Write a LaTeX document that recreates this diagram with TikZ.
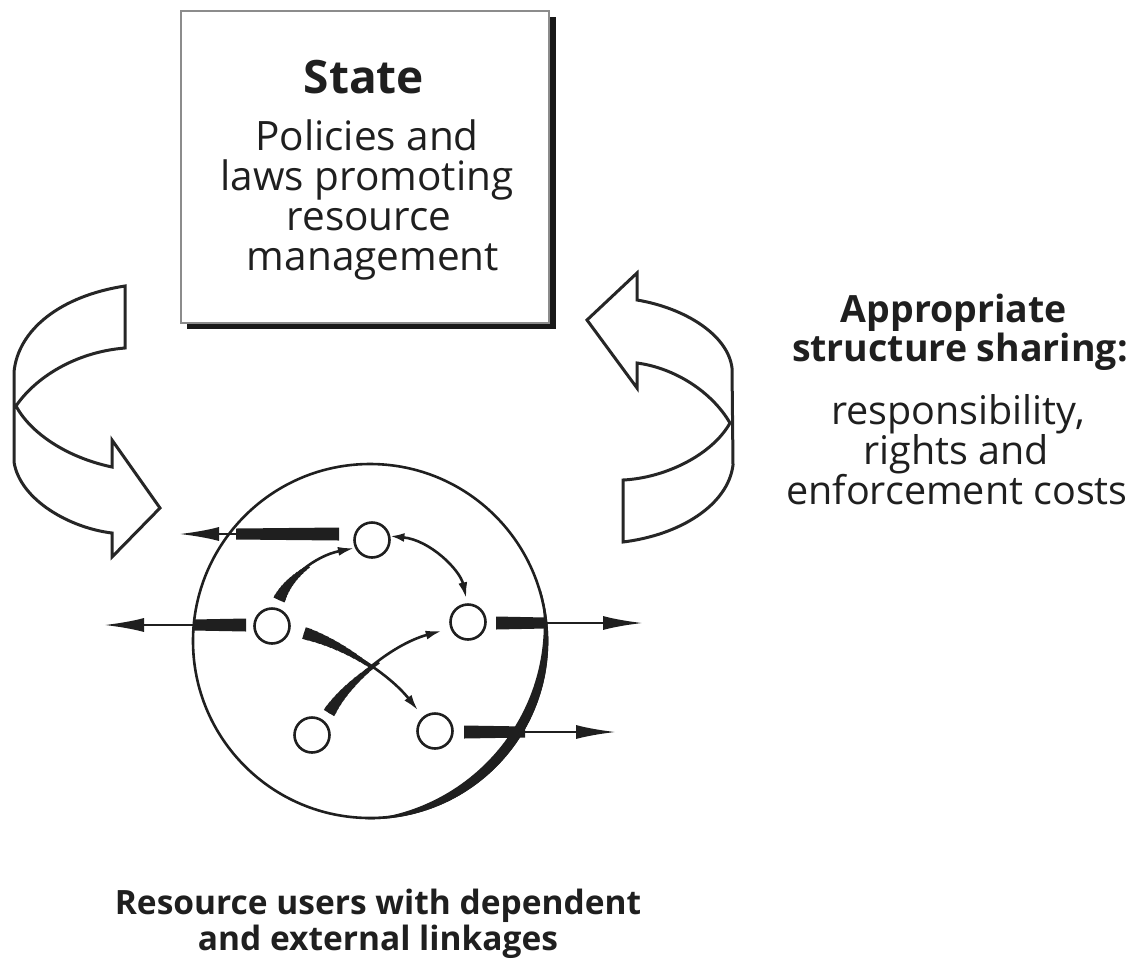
\documentclass[tikz,border=0pt]{standalone}
\usepackage{fontspec}
\setmainfont{Open Sans}
\usetikzlibrary{arrows.meta,calc}
\newcommand\tapercurve[5]{%
  \foreach \i in {0,...,11}{%
    \pgfmathsetmacro\tcpa{\i*0.045}%
    \pgfmathsetmacro\tcpb{(\i+1)*0.045+0.006}%
    \pgfmathsetmacro\tclw{12-\i*0.8}%
    \path (#1) .. controls (#2) and (#3) .. (#4) coordinate[pos=\tcpa] (qa) coordinate[pos=\tcpb] (qb);%
    \draw[line width=\tclw pt, ink] (qa) -- (qb);%
  }%
  \draw[line width=2.6pt, ink, smalltip, shorten >=#5] (#1) .. controls (#2) and (#3) .. (#4);%
}
\begin{document}
\begin{tikzpicture}[x=1pt,y=-1pt,
  ink/.style={draw=black!88},
  usr/.style={circle, draw=black!88, line width=2.6pt, minimum size=35pt, inner sep=0pt, fill=white},
  hollow/.style={draw=black!85, line width=3pt, line join=miter, fill=white},
  bigtip/.style={-{Latex[length=40pt,width=14pt]}},
  smalltip/.style={-{Latex[length=16pt,width=9pt]}},
  txt/.style={anchor=base, inner sep=0pt, text=black!88},
  boxtxt/.style={txt, font=\fontsize{40.5}{40}\selectfont},
  headtxt/.style={txt, font=\bfseries\fontsize{37.5}{40}\selectfont},
  bodytxt/.style={txt, font=\fontsize{39.5}{40}\selectfont},
  foottxt/.style={txt, font=\bfseries\fontsize{33.5}{40}\selectfont},
]
\useasboundingbox (0,0) rectangle (1134,962);

% State box with shadow
\coordinate (shA) at (187,17);
\coordinate (shB) at (556,329);
\fill[black!90] (shA) rectangle (shB);
\node[draw=black!45, line width=2pt, fill=white, minimum width=368pt, minimum height=312pt,
      anchor=north west, inner sep=0pt] (state) at (180,10) {};
\node[txt, font=\bfseries\fontsize{46}{48}\selectfont] (stt) at (364,93) {State};
\node[boxtxt] (b1) at (367,150) {Policies and};
\node[boxtxt] (b2) at (367,190) {laws promoting};
\node[boxtxt] (b3) at (369,230) {resource};
\node[boxtxt] (b4) at (373,270) {management};

% right text
\node[headtxt] (r1) at (954,322) {Appropriate};
\node[headtxt] (r2) at (960,361) {structure sharing:};
\node[bodytxt] (r3) at (958,424) {responsibility,};
\node[bodytxt] (r4) at (956,464) {rights and};
\node[bodytxt] (r5) at (957,504) {enforcement costs};

% bottom text
\node[foottxt] (f1) at (378,914) {Resource users with dependent};
\node[foottxt] (f2) at (378,950) {and external linkages};

% hollow curved arrows
\draw[hollow] (125,286) .. controls (60,296) and (18,330) .. (14,372) -- (14,462)
  .. controls (20,500) and (70,528) .. (112,533) -- (112,557) -- (160,508) -- (112,440) -- (112,467)
  .. controls (65,457) and (30,432) .. (16,406) .. controls (35,378) and (75,352) .. (125,348) -- cycle;
\draw[hollow] (637,300) .. controls (685,308) and (728,335) .. (732,368) -- (733,465)
  .. controls (728,505) and (680,535) .. (623,542) -- (623,480)
  .. controls (665,478) and (712,455) .. (730,423) .. controls (712,392) and (675,368) .. (637,363)
  -- (637,388) -- (587,320) -- (637,273) -- cycle;

% group circle with heavy lower-right edge
\node[circle, draw=black!88, line width=2.6pt, minimum size=354pt, inner sep=0pt] (grp) at (370,641) {};
\begin{scope}
  \clip (370,641) circle[radius=178.3pt];
  \fill[black!88, even odd rule] (370,641) circle[radius=200pt] (347.6,624.1) circle[radius=196.2pt];
\end{scope}

% resource users
\node[usr] (n1) at (372,540) {};
\node[usr] (n2) at (272,626) {};
\node[usr] (n3) at (468,622) {};
\node[usr] (n4) at (312,735) {};
\node[usr] (n5) at (435,731) {};

% external linkages
\coordinate (a1s) at (339,534); \coordinate (a1m) at (236,534); \coordinate (a1t) at (179,534);
\coordinate (a2s) at (246,625); \coordinate (a2m) at (193,625); \coordinate (a2t) at (104,625);
\coordinate (a3s) at (496,623); \coordinate (a3m) at (546,623); \coordinate (a3t) at (643,623);
\coordinate (a4s) at (464,732); \coordinate (a4m) at (525,732); \coordinate (a4t) at (616,732);
\fill[black!88] ($(a1s)+(0,-6.5)$) -- ($(a1s)+(0,6.5)$) -- ($(a1m)+(0,5.5)$) -- ($(a1m)+(0,-5.5)$) -- cycle;
\draw[line width=2.6pt, ink, bigtip] (a1m) -- (a1t);
\fill[black!88] ($(a2s)+(0,-6.5)$) -- ($(a2s)+(0,6.5)$) -- ($(a2m)+(0,5.5)$) -- ($(a2m)+(0,-5.5)$) -- cycle;
\draw[line width=2.6pt, ink, bigtip] (a2m) -- (a2t);
\fill[black!88] ($(a3s)+(0,-6.5)$) -- ($(a3s)+(0,6.5)$) -- ($(a3m)+(0,5.5)$) -- ($(a3m)+(0,-5.5)$) -- cycle;
\draw[line width=2.6pt, ink, bigtip] (a3m) -- (a3t);
\fill[black!88] ($(a4s)+(0,-6.5)$) -- ($(a4s)+(0,6.5)$) -- ($(a4m)+(0,5.5)$) -- ($(a4m)+(0,-5.5)$) -- cycle;
\draw[line width=2.6pt, ink, bigtip] (a4m) -- (a4t);

% internal dependencies
\coordinate (c1s) at (279,600);
\tapercurve{c1s}{288,578}{315,556}{n1.205}{1pt}
\draw[line width=2.6pt, ink, {Latex[length=14pt,width=9pt]}-{Latex[length=16pt,width=9pt]}, shorten >=5pt]
  (n1.12) .. controls (430,540) and (460,570) .. (n3.92);
\coordinate (c3s) at (304,633);
\tapercurve{c3s}{345,645}{390,675}{n5.130}{8pt}
\coordinate (c4s) at (329,713);
\tapercurve{c4s}{345,685}{390,645}{n3.200}{9pt}
\end{tikzpicture}
\end{document}
